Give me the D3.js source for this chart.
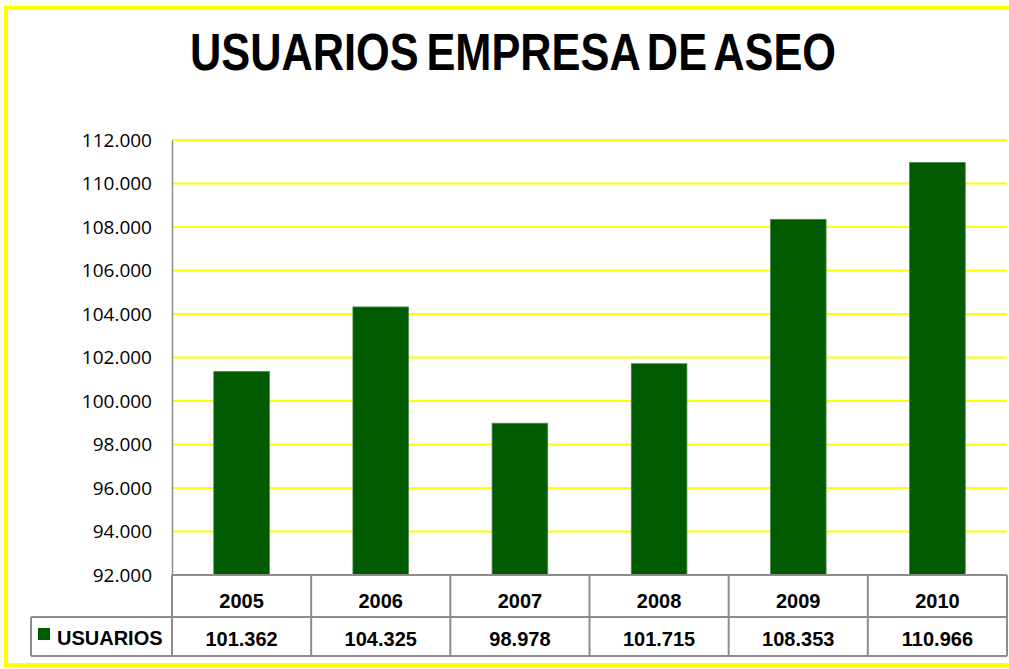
<!DOCTYPE html>
<html>
<head>
<meta charset="utf-8">
<script src="https://cdn.jsdelivr.net/npm/d3@7"></script>
<style>
  body { margin:0; padding:0; background:#ffffff; }
  svg { display:block; }
</style>
</head>
<body>
<div id="chart"></div>
<script>
////////////////////////// data //////////////////////////
var years = ["2005", "2006", "2007", "2008", "2009", "2010"];
var usuarios = [101362, 104325, 98978, 101715, 108353, 110966];
var seriesName = "USUARIOS";
var yTicks = [92000, 94000, 96000, 98000, 100000, 102000, 104000, 106000, 108000, 110000, 112000];

////////////////////////// layout //////////////////////////
var wdim = 1009, hdim = 669;
var plot = {left:172, right:1007, top:140, bottom:575};
var row1 = 617, row2 = 656, tableLeft = 31;
var green = "#005a00", yellow = "#ffff00", gridGray = "#8c8c8c";

// european style thousands separator
var fmt3 = function(v){ return d3.format(",")(v).replace(/,/g, "."); };

var svg = d3.select("#chart").append("svg")
  .attr("width", wdim).attr("height", hdim);

// pale background below frame + yellow frame
svg.append("rect").attr("x", 0).attr("y", 0).attr("width", wdim).attr("height", hdim).attr("fill", "#fffff2");
svg.append("rect").attr("x", 6).attr("y", 8).attr("width", wdim + 10).attr("height", 657)
  .attr("fill", "#ffffff").attr("stroke", yellow).attr("stroke-width", 4);

// title
svg.append("text")
  .attr("x", 513).attr("y", 70)
  .attr("text-anchor", "middle")
  .attr("font-family", "'Liberation Sans Narrow', 'Liberation Sans', Arial, sans-serif")
  .attr("font-weight", "bold")
  .attr("font-size", 51)
  .attr("word-spacing", -5)
  .attr("textLength", 646).attr("lengthAdjust", "spacingAndGlyphs")
  .attr("fill", "#000")
  .text("USUARIOS EMPRESA DE ASEO");

////////////////////////// scales //////////////////////////
var x = d3.scaleBand().domain(years).range([plot.left, plot.right]).paddingInner(0).paddingOuter(0);
var y = d3.scaleLinear().domain([92000, 112000]).range([plot.bottom, plot.top]);

// gridlines
svg.append("g").selectAll("line").data(yTicks.slice(1)).join("line")
  .attr("x1", plot.left).attr("x2", plot.right)
  .attr("y1", d => y(d)).attr("y2", d => y(d))
  .attr("stroke", yellow).attr("stroke-width", 2);

// y axis
var yAxis = svg.append("g")
  .attr("transform", "translate(" + plot.left + ",0)")
  .call(d3.axisLeft(y).tickValues(yTicks).tickSize(0).tickPadding(20).tickFormat(fmt3));
yAxis.select(".domain").attr("stroke", gridGray).attr("stroke-width", 1.5);
yAxis.selectAll("text")
  .attr("font-family", "'Open Sans', 'Noto Sans', sans-serif")
  .attr("font-size", 19).attr("fill", "#000");

// bars
var bw = x.bandwidth() * 0.4;
svg.append("g").selectAll("rect").data(usuarios).join("rect")
  .attr("x", (d, i) => x(years[i]) + x.bandwidth() / 2 - bw / 2)
  .attr("width", bw)
  .attr("y", d => y(d))
  .attr("height", d => y(92000) - y(d))
  .attr("fill", green)
  .attr("stroke", "#4f8a4f").attr("stroke-width", 0.8);

////////////////////////// data table //////////////////////////
var tbl = svg.append("g").attr("stroke", gridGray).attr("stroke-width", 2).attr("fill", "none");
// horizontal lines
tbl.append("line").attr("x1", plot.left).attr("x2", plot.right).attr("y1", plot.bottom).attr("y2", plot.bottom);
tbl.append("line").attr("x1", tableLeft).attr("x2", plot.right).attr("y1", row1).attr("y2", row1);
tbl.append("line").attr("x1", tableLeft).attr("x2", plot.right).attr("y1", row2).attr("y2", row2);
// vertical lines
var edges = years.map(d => x(d)).concat([plot.right]);
tbl.selectAll("line.v").data(edges).join("line").attr("class", "v")
  .attr("x1", d => d).attr("x2", d => d).attr("y1", plot.bottom).attr("y2", row2);
tbl.append("line").attr("x1", tableLeft).attr("x2", tableLeft).attr("y1", row1).attr("y2", row2);

var tfont = "'Liberation Sans', Arial, sans-serif";
svg.append("g").selectAll("text").data(years).join("text")
  .attr("x", d => x(d) + x.bandwidth() / 2).attr("y", 608)
  .attr("text-anchor", "middle")
  .attr("font-family", tfont).attr("font-weight", "bold").attr("font-size", 20)
  .text(d => d);

svg.append("g").selectAll("text").data(usuarios).join("text")
  .attr("x", (d, i) => x(years[i]) + x.bandwidth() / 2).attr("y", 646)
  .attr("text-anchor", "middle")
  .attr("font-family", tfont).attr("font-weight", "bold").attr("font-size", 20)
  .text(d => fmt3(d));

// legend key
svg.append("rect").attr("x", 38).attr("y", 628).attr("width", 12).attr("height", 12).attr("fill", green);
svg.append("text").attr("x", 57).attr("y", 645)
  .attr("font-family", tfont).attr("font-weight", "bold").attr("font-size", 20)
  .text(seriesName);
</script>
</body>
</html>
